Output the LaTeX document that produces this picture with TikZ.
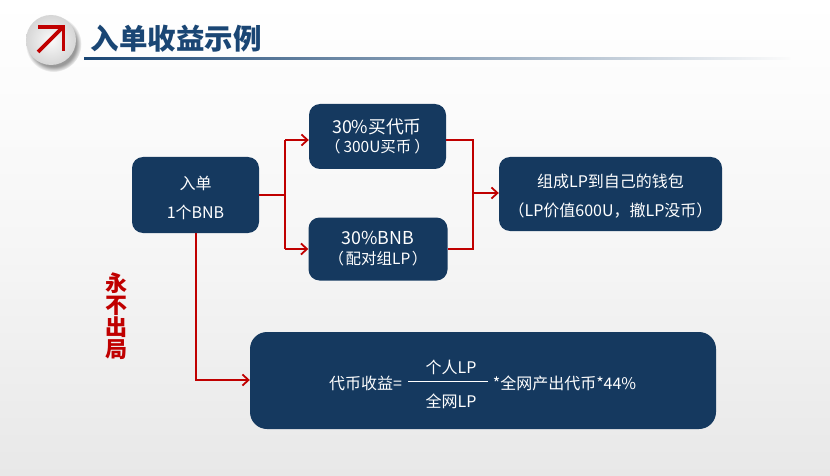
\documentclass[tikz,border=0pt]{standalone}
\usepackage{fontspec}
\setmainfont{Noto Sans CJK SC}
\usetikzlibrary{arrows.meta,shadows,fadings}
\definecolor{boxblue}{HTML}{15395F}
\definecolor{redline}{HTML}{C00000}
\definecolor{titleblue}{HTML}{1A4674}
\definecolor{bgtop}{HTML}{FBFBFB}
\newcommand{\fs}[1]{\fontsize{#1}{#1}\selectfont}
\tikzset{
  card/.style={fill=boxblue,draw=none,rounded corners=11pt,text=white,align=center,inner sep=0pt,anchor=center},
  lab/.style={text=white,inner sep=0pt,anchor=center,align=center},
  link/.style={draw=redline,line width=1.8pt},
  linka/.style={link,-{Straight Barb[length=6pt,width=11pt,line width=1.8pt]}},
}
\begin{document}
\begin{tikzpicture}[x=1pt,y=-1pt]
\useasboundingbox (0,0) rectangle (830,476);
\shade[top color=white,bottom color=white!91!black,middle color=white!96.5!black] (0,0) rectangle (830,476);
% icon
\fill[black!50,opacity=.8,path fading=circle with fuzzy edge 20 percent] (53.5,44) circle (28);
\shade[inner color=white!98!black,outer color=white!84!black,shading=radial] (51,40) circle (25);
\draw[redline,line width=3.2pt] (38,27) -- (63.5,27) -- (63.5,51);
\draw[redline,line width=3.8pt] (62,28) -- (38,52);
% title
\node[inner sep=0pt,text=titleblue,font=\fs{28.5}\bfseries,anchor=center] (title) at (176,39) {入单收益示例};
\shade[left color=titleblue,right color=bgtop] (84,58) rectangle (790,59.8);
% boxes
\node[card,minimum width=127pt,minimum height=76pt] (a) at (195.5,195) {};
\node[card,minimum width=137pt,minimum height=65pt] (b) at (377.5,136.5) {};
\node[card,minimum width=139pt,minimum height=63pt] (c) at (378,249) {};
\node[card,minimum width=223pt,minimum height=74pt] (d) at (610.5,194) {};
\node[card,rounded corners=17pt,minimum width=466pt,minimum height=97pt] (e) at (483,380.5) {};
% texts
\node[lab,font=\fs{16}] (a1) at (195.5,183) {入单};
\node[lab,font=\fs{16}] (a2) at (195.5,212) {1个BNB};
\node[lab,font=\fs{17.8}] (b1) at (377,127) {30\%买代币};
\node[lab,font=\fs{15.5}] (b2) at (377.5,147) {（\kern3pt 300U买币\kern3pt ）};
\node[lab,font=\fs{17.8}] (c1) at (378,238) {30\%BNB};
\node[lab,font=\fs{15.5}] (c2) at (378,259) {（\kern1.5pt 配对组LP\kern1.5pt ）};
\node[lab,font=\fs{16}] (d1) at (610.5,181) {组成LP到自己的钱包};
\node[lab,font=\fs{16}] (d2) at (610.5,211) {（LP价值600U，撤LP没币）};
\node[lab,font=\fs{16}] (e1) at (365.5,383) {代币收益=};
\node[lab,font=\fs{16}] (e2) at (451,367) {个人LP};
\node[lab,font=\fs{16}] (e3) at (451,401) {全网LP};
\node[lab,font=\fs{16}] (e4) at (564.5,383) {*全网产出代币*44\%};
\coordinate (fl) at (408,381);
\coordinate (fr) at (488,381);
\draw[white,line width=1pt] (fl) -- (fr);
\node[inner sep=0pt,text=redline,font=\fs{22}\bfseries,align=center,anchor=center] (side) at (116.5,316.5) {\fontsize{22}{21}\selectfont 永\\不\\出\\局};
% connectors
\coordinate (j1) at (285,195);
\coordinate (j1t) at (285,140);
\coordinate (j1b) at (285,249);
\coordinate (j2t) at (473,140);
\coordinate (j2b) at (473,249);
\coordinate (j2) at (473,193);
\coordinate (k) at (196,380);
\draw[link] (a.east) -- (j1);
\draw[link] (j1b) -- (j1t);
\draw[linka] (j1t) -- (b.west |- j1t);
\draw[linka] (j1b) -- (c.west |- j1b);
\draw[link] (b.east |- j2t) -- (j2t) -- (j2b) -- (c.east |- j2b);
\draw[linka,line width=2.2pt] (j2) -- (d.west |- j2);
\draw[linka] (a.south -| k) -- (k) -- (e.west |- k);
\end{tikzpicture}
\end{document}
